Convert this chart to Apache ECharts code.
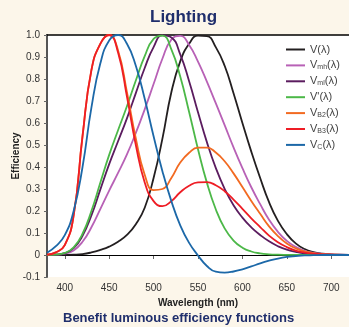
<!DOCTYPE html>
<html>
<head>
<meta charset="utf-8">
<script src="https://cdn.jsdelivr.net/npm/echarts@6/dist/echarts.min.js"></script>
<style>
  html, body { margin: 0; padding: 0; background: #fcf6ea; }
  #chart { width: 349px; height: 327px; }
</style>
</head>
<body>
<div id="chart"></div>
<script>
// wavelength grid (nm)
var wavelengths = [380,390,400,410,420,430,440,450,460,470,480,490,500,510,520,530,540,550,560,570,580,590,600,610,620,630,640,650,660,670,680,690,700,710,720];

var vPhot = [0.00004,0.00012,0.0004,0.0012,0.004,0.0116,0.023,0.038,0.06,0.091,0.14,0.215,0.35,0.53,0.74,0.88,0.96,0.997,0.995,0.945,0.86,0.735,0.6,0.47,0.35,0.24,0.155,0.095,0.053,0.027,0.013,0.006,0.003,0.0015,0.0007];
var vMh = [0.0004,0.0014,0.006,0.021,0.06,0.126,0.209,0.293,0.373,0.457,0.555,0.662,0.777,0.893,0.979,0.996,0.955,0.879,0.788,0.69,0.59,0.489,0.395,0.308,0.231,0.16,0.105,0.064,0.037,0.019,0.01,0.005,0.0024,0.0012,0.0006];
var vMl = [0.0006,0.002,0.0083,0.031,0.087,0.18,0.297,0.413,0.517,0.621,0.736,0.85,0.945,0.998,0.989,0.912,0.79,0.649,0.513,0.396,0.301,0.226,0.17,0.126,0.091,0.062,0.04,0.024,0.014,0.007,0.004,0.002,0.001,0.0005,0];
var vScot = [0.0006,0.0022,0.0093,0.0348,0.0966,0.1998,0.3281,0.455,0.567,0.676,0.793,0.904,0.982,0.997,0.935,0.811,0.65,0.481,0.329,0.208,0.121,0.0655,0.0332,0.0159,0.0074,0.0033,0.0015,0.0007,0.0003,0.00015,0.0001,0,0,0,0];
var vB2 = [0.002,0.012,0.045,0.18,0.54,0.84,0.96,1.0,0.93,0.74,0.53,0.365,0.295,0.30,0.35,0.42,0.465,0.488,0.488,0.466,0.426,0.371,0.309,0.246,0.187,0.13,0.086,0.052,0.03,0.016,0.008,0.004,0.002,0.001,0.0005];
var vB3 = [0.002,0.012,0.045,0.18,0.54,0.84,0.96,1.0,0.92,0.72,0.5,0.33,0.245,0.222,0.245,0.285,0.315,0.33,0.331,0.317,0.29,0.252,0.21,0.167,0.127,0.088,0.058,0.036,0.02,0.011,0.006,0.003,0.0015,0.0007,0.0003];
var vC = [0.01,0.04,0.09,0.2,0.4,0.67,0.87,0.975,1.0,0.96,0.86,0.71,0.54,0.38,0.245,0.135,0.055,-0.002,-0.05,-0.076,-0.08,-0.075,-0.065,-0.052,-0.038,-0.026,-0.016,-0.009,-0.005,-0.002,-0.001,0,0,0,0];

var xTicks = [400,450,500,550,600,650,700];

var seriesNames = ['V(λ)','Vmh(λ)','Vml(λ)',"V'(λ)",'VB2(λ)','VB3(λ)','VC(λ)'];
var seriesColors = ['#231f20','#b861b6','#5b1c5f','#4cb848','#f26a21','#ee1d25','#1c68a8'];
var seriesValues = [vPhot, vMh, vMl, vScot, vB2, vB3, vC];

// legend labels with subscripts
var legendRich = {
    'V(λ)': '{n|V(λ)}',
    'Vmh(λ)': '{n|V}{s|mh}{n|(λ)}',
    'Vml(λ)': '{n|V}{s|ml}{n|(λ)}',
    "V'(λ)": "{n|V'(λ)}",
    'VB2(λ)': '{n|V}{s|B2}{n|(λ)}',
    'VB3(λ)': '{n|V}{s|B3}{n|(λ)}',
    'VC(λ)': '{n|V}{s|C}{n|(λ)}'
};

function pairs(vals) {
    return wavelengths.map(function (w, i) { return [w, vals[i]]; });
}

var font = 'Liberation Sans, Arial, sans-serif';
var chart = echarts.init(document.getElementById('chart'));

var series = seriesValues.map(function (vals, i) {
    return {
        name: seriesNames[i],
        type: 'line',
        data: pairs(vals),
        smooth: true,
        symbol: 'none',
        color: seriesColors[i],
        lineStyle: { width: 1.8, color: seriesColors[i] },
        z: 3
    };
});

// zero line
series.push({
    type: 'line',
    data: [],
    silent: true,
    markLine: {
        silent: true,
        symbol: 'none',
        label: { show: false },
        lineStyle: { color: '#000', width: 1.2, type: 'solid' },
        data: [{ yAxis: 0 }],
        z: 2
    }
});

chart.setOption({
    backgroundColor: '#fcf6ea',
    animation: false,
    title: [
        {
            text: 'Lighting',
            left: 150,
            top: 9,
            padding: 0,
            textStyle: { fontFamily: font, fontSize: 17, fontWeight: 'bold', color: '#1f2e6c' }
        },
        {
            text: 'Benefit luminous efficiency functions',
            left: 63,
            top: 312,
            padding: 0,
            textStyle: { fontFamily: font, fontSize: 13, fontWeight: 'bold', color: '#1f2e6c' }
        }
    ],
    grid: {
        left: 47, right: 0, top: 35, bottom: 50,
        outerBoundsMode: 'none',
        containLabel: false,
        show: true, backgroundColor: '#ffffff', borderWidth: 0
    },
    legend: {
        orient: 'vertical',
        left: 286,
        top: 44,
        padding: 0,
        icon: 'rect',
        itemWidth: 19,
        itemHeight: 2,
        itemGap: 4.9,
        data: seriesNames,
        formatter: function (name) { return legendRich[name]; },
        textStyle: {
            fontFamily: font,
            color: '#444',
            rich: {
                n: { fontSize: 11, fontFamily: font, color: '#444', height: 12 },
                s: { fontSize: 7, fontFamily: font, color: '#444', verticalAlign: 'bottom', padding: [4, 0, 0, 0], height: 12 }
            }
        }
    },
    xAxis: [
        {
            type: 'value',
            min: 380,
            max: 720,
            name: 'Wavelength (nm)',
            nameLocation: 'middle',
            nameGap: 21,
            nameTextStyle: { fontFamily: font, fontSize: 10, fontWeight: 'bold', color: '#222' },
            axisLine: { show: false },
            axisTick: { show: true, customValues: xTicks, length: 4, lineStyle: { color: '#666' } },
            axisLabel: { customValues: xTicks, fontFamily: font, fontSize: 10, color: '#333', margin: 6 },
            splitLine: { show: false }
        },
        {
            type: 'value',
            position: 'top',
            min: 380,
            max: 720,
            axisLine: { show: true, lineStyle: { color: '#000', width: 1.5 } },
            axisTick: { show: false },
            axisLabel: { show: false },
            splitLine: { show: false }
        }
    ],
    yAxis: {
        type: 'value',
        min: -0.1,
        max: 1.0,
        interval: 0.1,
        name: 'Efficiency',
        nameLocation: 'middle',
        nameMoveOverlap: false,
        nameGap: 26,
        nameTextStyle: { fontFamily: font, fontSize: 10, fontWeight: 'bold', color: '#222' },
        axisLine: { show: true, lineStyle: { color: '#555', width: 2 } },
        axisTick: { show: true, length: 3, lineStyle: { color: '#666' } },
        axisLabel: {
            fontFamily: font, fontSize: 10, color: '#333', margin: 7,
            formatter: function (v) { return Math.abs(v) < 1e-9 ? '0' : v.toFixed(1); }
        },
        splitLine: { show: false }
    },
    series: series
});
</script>
</body>
</html>
